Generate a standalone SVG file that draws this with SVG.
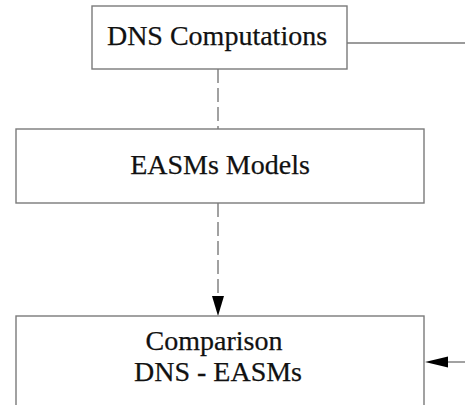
<svg xmlns="http://www.w3.org/2000/svg" width="465" height="405" viewBox="0 0 465 405">
  <style>
    .box { fill: #ffffff; stroke: #7a7a7a; stroke-width: 1.4; }
    .label { font-family: "Liberation Serif", "Times New Roman", serif; font-size: 28px; fill: #111111; stroke: #111111; stroke-width: 0.25; text-anchor: middle; }
    .link { fill: none; stroke: #7a7a7a; stroke-width: 1.4; }
    .dashed { stroke-dasharray: 14 5; }
    .head { fill: #000000; }
  </style>
  <rect width="465" height="405" fill="#ffffff"/>

  <g id="connectors">
    <!-- DNS Computations to EASMs Models -->
    <line class="link dashed" x1="218" y1="69" x2="218" y2="129"/>
    <!-- EASMs Models down to Comparison -->
    <path class="link dashed" d="M218,203 L218,297"/>
    <path class="head" d="M212,296 L224,296 L218,316 Z"/>
    <!-- DNS Computations out to the right -->
    <line class="link" x1="347" y1="43" x2="465" y2="43"/>
    <!-- incoming from the right into Comparison -->
    <line class="link" x1="448" y1="362" x2="465" y2="362"/>
    <path class="head" d="M425,362 L448,356.5 L448,367.5 Z"/>
  </g>

  <g id="dns-computations">
    <rect class="box" x="92" y="6" width="255" height="63"/>
    <text class="label" x="217" y="45">DNS Computations</text>
  </g>

  <g id="easms-models">
    <rect class="box" x="16" y="129" width="408" height="74"/>
    <text class="label" x="220" y="174">EASMs Models</text>
  </g>

  <g id="comparison">
    <rect class="box" x="16" y="316" width="408" height="100"/>
    <text class="label" x="214" y="350">Comparison</text>
    <text class="label" x="218" y="381">DNS - EASMs</text>
  </g>
</svg>
